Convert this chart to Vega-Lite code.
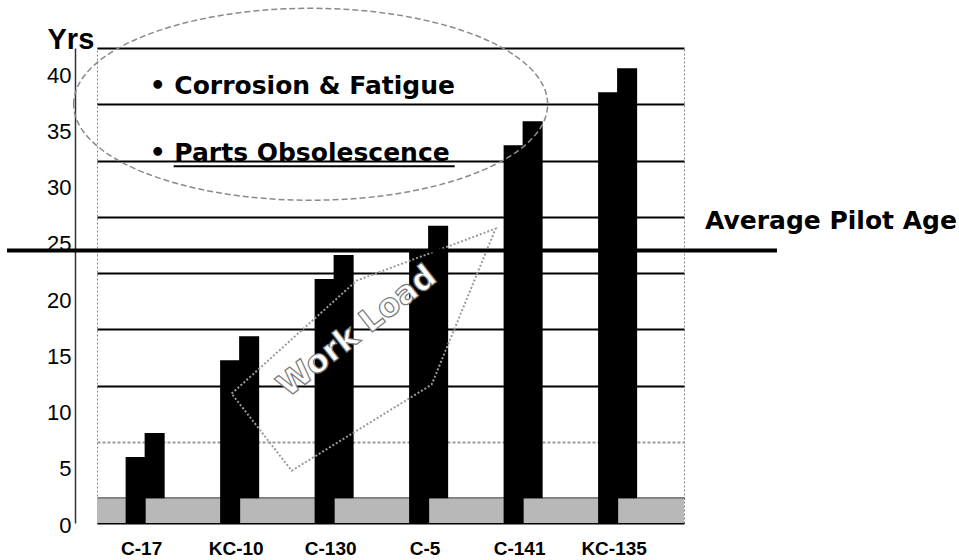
{
  "$schema": "https://vega.github.io/schema/vega-lite/v6.json",
  "autosize": {"type": "none"},
  "padding": {"left": 97, "top": 48, "right": 275, "bottom": 37},
  "width": 587,
  "height": 475,
  "background": "white",
  "config": {
    "view": {"stroke": "#888888", "strokeDash": [2, 2], "strokeWidth": 1},
    "font": "Liberation Sans"
  },
  "datasets": {
    "ages": [
      {"aircraft": "C-17", "age": 5.8},
      {"aircraft": "KC-10", "age": 14.4},
      {"aircraft": "C-130", "age": 21.6},
      {"aircraft": "C-5", "age": 24.2},
      {"aircraft": "C-141", "age": 33.5},
      {"aircraft": "KC-135", "age": 38.2}
    ],
    "pilot": [{"label": "Average Pilot Age", "age": 22}],
    "one": [{}]
  },
  "layer": [
    {
      "layer": [
        {
          "data": {"name": "one"},
          "mark": {"type": "rect", "fill": "#b8b8b8"},
          "encoding": {
            "y": {"datum": 0, "type": "quantitative"},
            "y2": {"datum": -2.2}
          }
        },
        {
          "data": {"name": "ages"},
          "mark": {"type": "bar", "color": "black", "xOffset": 19},
          "encoding": {
            "x": {
              "field": "aircraft", "type": "nominal",
              "scale": {"domain": ["C-17", "KC-10", "C-130", "C-5", "C-141", "KC-135"], "paddingInner": 0.788, "paddingOuter": 0.5, "align": 0.303},
              "axis": {
                "title": null, "labelAngle": 0, "ticks": false, "labelPadding": 16, "labelOffset": 6,
                "labelFont": "Liberation Sans", "labelFontWeight": "bold", "labelFontSize": 19, "labelColor": "black",
                "domainColor": "black", "domainWidth": 2, "grid": false
              }
            },
            "y": {
              "field": "age", "type": "quantitative",
              "scale": {"domain": [-2.2, 40], "nice": false, "zero": false},
              "axis": {
                "values": [0, 5, 10, 15, 20, 25, 30, 35, 40],
                "title": "Yrs", "titleAngle": 0, "titleAlign": "left", "titleBaseline": "top",
                "titleX": -28, "titleY": -23, "titleFont": "Liberation Sans", "titleFontWeight": "bold", "titleFontSize": 29, "titleColor": "black",
                "offset": 22, "ticks": false, "labelPadding": 4, "labelOffset": 27,
                "labelFont": "Liberation Sans", "labelFontSize": 22, "labelColor": "black",
                "domainColor": "#333333", "domainWidth": 1.5,
                "grid": true,
                "gridColor": {"condition": {"test": "datum.value === 5", "value": "#9a9a9a"}, "value": "black"},
                "gridDash": {"condition": {"test": "datum.value === 5", "value": [3, 2]}, "value": []},
                "gridWidth": 2, "gridOpacity": 1
              }
            },
            "y2": {"datum": 0}
          }
        },
        {
          "data": {"name": "ages"},
          "mark": {"type": "bar", "color": "black", "yOffset": 24},
          "encoding": {
            "x": {"field": "aircraft", "type": "nominal", "scale": {"domain": ["C-17", "KC-10", "C-130", "C-5", "C-141", "KC-135"]}},
            "y": {"field": "age", "type": "quantitative"},
            "y2": {"datum": -2.2}
          }
        },
        {
          "data": {"name": "one"},
          "mark": {"type": "point", "shape": "M-1,0 A1,0.405 0 1,1 1,0 A1,0.405 0 1,1 -1,0 Z", "size": 224676, "filled": false, "stroke": "#8a8a8a", "strokeWidth": 1.5, "strokeDash": [6, 3], "xOffset": -14, "opacity": 1},
          "encoding": {
            "x": {"datum": "C-130", "type": "nominal"},
            "y": {"datum": 35, "type": "quantitative"}
          }
        },
        {
          "data": {"name": "one"},
          "mark": {"type": "text", "text": "• Corrosion & Fatigue", "align": "left", "baseline": "middle", "dx": 14, "font": "DejaVu Sans", "fontWeight": "bold", "fontSize": 25, "color": "black"},
          "encoding": {
            "x": {"datum": "C-17", "type": "nominal"},
            "y": {"datum": 36.6, "type": "quantitative"}
          }
        },
        {
          "data": {"name": "one"},
          "mark": {"type": "text", "text": "• Parts Obsolescence", "align": "left", "baseline": "middle", "dx": 14, "font": "DejaVu Sans", "fontWeight": "bold", "fontSize": 25, "color": "black"},
          "encoding": {
            "x": {"datum": "C-17", "type": "nominal"},
            "y": {"datum": 30.7, "type": "quantitative"}
          }
        },
        {
          "data": {"name": "one"},
          "mark": {"type": "rule", "color": "black", "strokeWidth": 2, "xOffset": 38, "x2Offset": 130},
          "encoding": {
            "x": {"datum": "C-17", "type": "nominal"},
            "x2": {"datum": "C-130"},
            "y": {"datum": 29.5, "type": "quantitative"}
          }
        },
        {
          "data": {"name": "one"},
          "mark": {"type": "point", "shape": "M-1,0.333 L-0.053,-0.523 L1,-0.917 L0.515,0.265 L-0.545,0.917 Z", "size": 69696, "filled": false, "stroke": "#9a9a9a", "strokeWidth": 2, "strokeDash": [2, 2], "xOffset": 39, "opacity": 1},
          "encoding": {
            "x": {"datum": "C-130", "type": "nominal"},
            "y": {"datum": 13.2, "type": "quantitative"}
          }
        },
        {
          "data": {"name": "one"},
          "mark": {"type": "text", "text": "Work Load", "align": "center", "baseline": "middle", "dx": 41, "angle": 322, "font": "DejaVu Sans", "fontWeight": "bold", "fontSize": 32, "fill": "white", "stroke": "#7a7a7a", "strokeWidth": 1.2},
          "encoding": {
            "x": {"datum": "C-130", "type": "nominal"},
            "y": {"datum": 12.6, "type": "quantitative"}
          }
        }
      ]
    },
    {
      "data": {"name": "pilot"},
      "layer": [
        {
          "mark": {"type": "rule", "color": "black", "strokeWidth": 4},
          "encoding": {
            "x": {"datum": 0, "type": "quantitative", "scale": {"domain": [0, 1], "range": [-90, 680]}, "axis": null},
            "x2": {"datum": 1},
            "y": {"field": "age", "type": "quantitative"}
          }
        },
        {
          "mark": {"type": "text", "align": "left", "baseline": "middle", "dx": -72, "dy": -30, "font": "DejaVu Sans", "fontWeight": "bold", "fontSize": 25, "color": "black"},
          "encoding": {
            "x": {"datum": 1, "type": "quantitative"},
            "y": {"field": "age", "type": "quantitative"},
            "text": {"field": "label"}
          }
        }
      ]
    }
  ],
  "resolve": {"scale": {"x": "independent"}}
}
